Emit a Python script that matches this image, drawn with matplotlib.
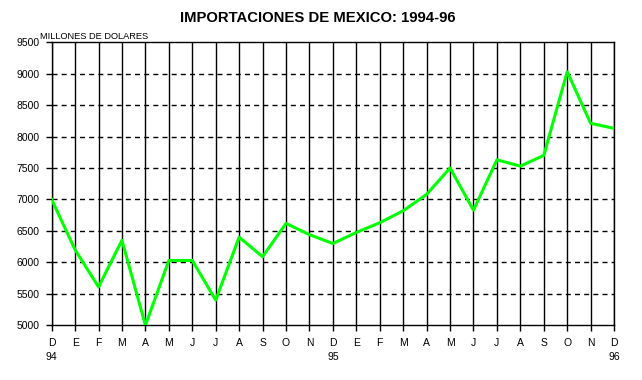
import matplotlib
matplotlib.use('Agg')
from matplotlib import pyplot as plt

plt.rcParams['font.family'] = ['Liberation Sans', 'DejaVu Sans']

# monthly imports, millions of dollars, Dec 1994 - Dec 1996
months = ['D', 'E', 'F', 'M', 'A', 'M', 'J', 'J', 'A', 'S', 'O', 'N',
          'D', 'E', 'F', 'M', 'A', 'M', 'J', 'J', 'A', 'S', 'O', 'N', 'D']
years = {0: '94', 12: '95', 24: '96'}
imports = [7000, 6200, 5610, 6350, 5000, 6030, 6030, 5400, 6400, 6090, 6620, 6440,
           6300, 6475, 6630, 6820, 7080, 7500, 6830, 7630, 7530, 7700, 9030, 8210, 8130]
yticks = list(range(5000, 9501, 500))

labels = []
for i, m in enumerate(months):
    labels.append(m + '\n' + years[i] if i in years else m)

fig = plt.figure(figsize=(6.42, 3.8), dpi=100)
ax = fig.add_axes([0.0805, 0.144, 0.876, 0.745])

x = list(range(len(imports)))
ax.plot(x, imports, color='#00ff00', linewidth=2.2, zorder=3)

ax.set_xlim(0, len(imports) - 1)
ax.set_ylim(5000, 9500)
ax.set_xticks(x)
ax.set_xticklabels(labels, fontsize=7.5, linespacing=1.5)
ax.set_yticks(yticks)
ax.set_yticklabels([str(v) for v in yticks], fontsize=7.5)

for xi in x:
    ax.axvline(xi, color='black', linewidth=1.0, zorder=1)
for v in yticks[1:-1]:
    ax.axhline(v, color='black', linewidth=1.0, linestyle=(0, (3.6, 3)), zorder=1)

for s in ax.spines.values():
    s.set_linewidth(1.0)
ax.tick_params(axis='both', length=4, width=1.0, pad=5)

fig.text(0.495, 0.952, 'IMPORTACIONES DE MEXICO: 1994-96', ha='center', va='center',
         fontsize=10.7, fontweight='bold')
fig.text(0.062, 0.905, 'MILLONES DE DOLARES', ha='left', va='center', fontsize=6.7)

fig.savefig('out.png', dpi=100)
